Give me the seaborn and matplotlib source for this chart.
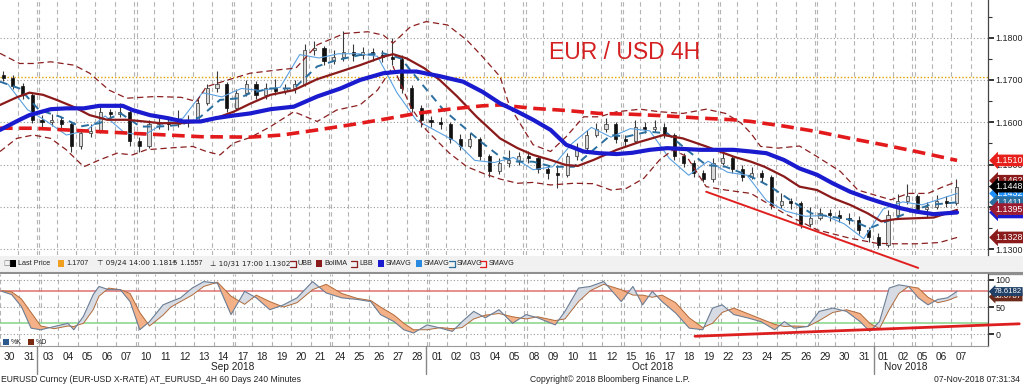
import numpy as np
import pandas as pd
import matplotlib
matplotlib.use("Agg")
import matplotlib.pyplot as plt
import matplotlib.transforms as mtransforms
from matplotlib.patches import Rectangle
from matplotlib.lines import Line2D
import seaborn as sns

# ---------------- data ----------------
day_labels = ["30", "31", "03", "04", "05", "06", "07", "10", "11", "12", "13", "14",
              "17", "18", "19", "20", "21", "24", "25", "26", "27", "28",
              "01", "02", "03", "04", "05", "08", "09", "10", "11", "12", "15", "16",
              "17", "18", "19", "22", "23", "24", "25", "26", "29", "30", "31",
              "01", "02", "05", "06", "07"]
friday_idx = [1, 6, 11, 16, 21, 26, 31, 36, 41, 46]
month_labels = ["Sep 2018", "Oct 2018", "Nov 2018"]

# half-day price bars (time in trading days, 0 = 30 Aug)
bar_t = [-0.25 + 0.5 * i for i in range(99)]
first_open = 1.1712
bar_close = [
    1.1705, 1.1685, 1.1665, 1.1605, 1.1600, 1.1605, 1.1595, 1.1545, 1.1575, 1.1580,
    1.1625, 1.1620, 1.1625, 1.1555, 1.1545, 1.1595, 1.1600, 1.1595, 1.1600, 1.1605,
    1.1645, 1.1680, 1.1690, 1.1635, 1.1670, 1.1690, 1.1665, 1.1680, 1.1675, 1.1680,
    1.1690, 1.1770, 1.1775, 1.1745, 1.1755, 1.1765, 1.1760, 1.1765, 1.1760, 1.1755,
    1.1750, 1.1680, 1.1635, 1.1605, 1.1600, 1.1595, 1.1560, 1.1545, 1.1560, 1.1520,
    1.1485, 1.1505, 1.1510, 1.1520, 1.1515, 1.1490, 1.1480, 1.1475, 1.1520, 1.1540,
    1.1570, 1.1585, 1.1595, 1.1560, 1.1555, 1.1590, 1.1585, 1.1590, 1.1570, 1.1520,
    1.1505, 1.1480, 1.1465, 1.1505, 1.1515, 1.1490, 1.1470, 1.1480, 1.1470, 1.1405,
    1.1415, 1.1410, 1.1360, 1.1375, 1.1385, 1.1380, 1.1375, 1.1370, 1.1345, 1.1330,
    1.1310, 1.1380, 1.1415, 1.1425, 1.1395, 1.1400, 1.1415, 1.1410, 1.1448]
bar_high = [
    1.1722, 1.1712, 1.1692, 1.1672, 1.1618, 1.1620, 1.1612, 1.1600, 1.1582, 1.1595,
    1.1640, 1.1632, 1.1645, 1.1630, 1.1565, 1.1605, 1.1612, 1.1610, 1.1630, 1.1618,
    1.1655, 1.1690, 1.1722, 1.1695, 1.1678, 1.1700, 1.1698, 1.1692, 1.1702, 1.1690,
    1.1700, 1.1785, 1.1792, 1.1780, 1.1770, 1.1815, 1.1785, 1.1778, 1.1775, 1.1770,
    1.1800, 1.1758, 1.1688, 1.1640, 1.1615, 1.1612, 1.1600, 1.1572, 1.1575, 1.1565,
    1.1525, 1.1515, 1.1535, 1.1530, 1.1532, 1.1520, 1.1498, 1.1500, 1.1528, 1.1550,
    1.1582, 1.1598, 1.1610, 1.1600, 1.1570, 1.1605, 1.1600, 1.1605, 1.1598, 1.1575,
    1.1528, 1.1512, 1.1488, 1.1515, 1.1530, 1.1522, 1.1498, 1.1495, 1.1488, 1.1475,
    1.1432, 1.1422, 1.1415, 1.1400, 1.1398, 1.1395, 1.1392, 1.1385, 1.1378, 1.1352,
    1.1338, 1.1392, 1.1430, 1.1455, 1.1430, 1.1412, 1.1428, 1.1425, 1.1465]
bar_low = [
    1.1698, 1.1678, 1.1655, 1.1598, 1.1590, 1.1592, 1.1585, 1.1530, 1.1538, 1.1565,
    1.1575, 1.1608, 1.1612, 1.1545, 1.1530, 1.1540, 1.1585, 1.1582, 1.1588, 1.1590,
    1.1600, 1.1640, 1.1672, 1.1625, 1.1630, 1.1662, 1.1655, 1.1655, 1.1665, 1.1668,
    1.1670, 1.1685, 1.1760, 1.1735, 1.1738, 1.1745, 1.1745, 1.1750, 1.1745, 1.1742,
    1.1735, 1.1670, 1.1625, 1.1590, 1.1590, 1.1585, 1.1550, 1.1535, 1.1540, 1.1510,
    1.1470, 1.1478, 1.1495, 1.1500, 1.1505, 1.1480, 1.1465, 1.1444, 1.1470, 1.1512,
    1.1535, 1.1565, 1.1578, 1.1552, 1.1545, 1.1550, 1.1575, 1.1578, 1.1562, 1.1512,
    1.1495, 1.1470, 1.1458, 1.1460, 1.1498, 1.1480, 1.1462, 1.1465, 1.1460, 1.1395,
    1.1398, 1.1395, 1.1350, 1.1352, 1.1370, 1.1368, 1.1365, 1.1360, 1.1335, 1.1318,
    1.1302, 1.1305, 1.1375, 1.1408, 1.1385, 1.1375, 1.1395, 1.1400, 1.1405]

ubb_t = [-0.41, 0.6, 1.3, 2.2, 3.4, 4.2, 5.2, 6.1, 7.6, 8.9, 9.7, 10.2, 11.3, 12.45, 14.1,
         14.8, 15.9, 17.3, 18.5, 19.3, 19.8, 20.7, 21.5, 22.6, 23.6, 24.4, 25.3, 25.8, 27.0,
         27.9, 28.7, 29.6, 30.4, 31.3, 32.5, 33.5, 34.7, 35.9, 36.9, 37.7, 38.2, 38.7, 39.6,
         40.7, 41.6, 42.8, 43.7, 44.5, 45.4, 46.3, 47.3, 48.1, 48.8]
ubb_v = [1.1763, 1.1739, 1.1739, 1.1743, 1.1735, 1.1716, 1.1676, 1.1657, 1.1661, 1.1659,
         1.1649, 1.1684, 1.1700, 1.1716, 1.1725, 1.1728, 1.1783, 1.1810, 1.1814, 1.1806,
         1.1787, 1.1826, 1.1838, 1.1830, 1.1794, 1.1755, 1.1708, 1.1637, 1.1547, 1.1531,
         1.1566, 1.1613, 1.1613, 1.1625, 1.1631, 1.1625, 1.1621, 1.1631, 1.1621, 1.1598,
         1.1574, 1.1543, 1.1539, 1.1544, 1.1519, 1.1484, 1.1440, 1.1429, 1.1417, 1.1432,
         1.1432, 1.1448, 1.1460]
bollma_t = [-0.41, 0.45, 1.1, 1.8, 2.5, 3.4, 4.2, 5.1, 6.1, 7.0, 7.8, 8.9, 9.9, 10.7, 11.6,
            12.45, 13.5, 14.7, 15.9, 17.1, 18.1, 19.3, 19.8, 20.5, 21.4, 22.2, 23.1, 24.1,
            25.3, 26.2, 27.0, 27.9, 28.7, 29.3, 30.1, 31.3, 32.5, 33.7, 34.7, 35.9, 37.3,
            38.2, 38.9, 39.9, 40.7, 41.6, 42.4, 43.3, 44.2, 44.9, 45.6, 45.9, 47.6, 48.8]
bollma_v = [1.1641, 1.1659, 1.1670, 1.1665, 1.1653, 1.1636, 1.1617, 1.1606, 1.1606, 1.1602,
            1.1598, 1.1598, 1.1602, 1.1610, 1.1625, 1.1644, 1.1665, 1.1676, 1.1702, 1.1720,
            1.1735, 1.1755, 1.1761, 1.1751, 1.1728, 1.1700, 1.1661, 1.1613, 1.1562, 1.1539,
            1.1523, 1.1511, 1.1499, 1.1497, 1.1511, 1.1535, 1.1554, 1.1570, 1.1562, 1.1543,
            1.1519, 1.1507, 1.1495, 1.1472, 1.1448, 1.1440, 1.1421, 1.1405, 1.1385, 1.1366,
            1.1371, 1.1372, 1.1375, 1.1393]
lbb_t = [-0.41, 0.45, 1.3, 2.2, 3.0, 3.9, 4.7, 5.6, 6.4, 7.1, 8.2, 9.5, 10.2, 10.9, 11.6,
         12.45, 13.5, 14.7, 15.9, 16.9, 18.1, 19.0, 19.8, 20.7, 21.5, 22.7, 23.6, 24.4, 25.3,
         26.2, 27.0, 27.9, 29.1, 30.1, 31.0, 31.8, 32.7, 33.5, 34.2, 34.9, 35.9, 36.9, 38.2,
         39.9, 41.6, 43.3, 44.7, 45.6, 46.7, 47.9, 48.8]
lbb_v = [1.1531, 1.1562, 1.1570, 1.1562, 1.1535, 1.1495, 1.1511, 1.1527, 1.1523, 1.1535,
         1.1539, 1.1543, 1.1531, 1.1523, 1.1551, 1.1564, 1.1590, 1.1625, 1.1602, 1.1629,
         1.1641, 1.1676, 1.1732, 1.1637, 1.1582, 1.1527, 1.1495, 1.1480, 1.1466, 1.1456,
         1.1458, 1.1452, 1.1456, 1.1455, 1.1440, 1.1444, 1.1468, 1.1511, 1.1535, 1.1519,
         1.1448, 1.1440, 1.1432, 1.1385, 1.1346, 1.1326, 1.1314, 1.1313, 1.1313, 1.1316,
         1.1328]
sma_slow_t = [-0.41, 0.6, 1.1, 2.2, 3.0, 3.9, 4.7, 5.9, 6.4, 7.3, 8.2, 9.0, 9.9, 10.7, 11.6,
              12.45, 13.5, 14.7, 15.9, 17.1, 18.1, 19.3, 20.2, 21.0, 22.2, 23.4, 24.4, 25.3,
              26.2, 27.0, 27.9, 28.7, 29.6, 30.4, 31.3, 32.1, 33.0, 33.9, 35.6, 37.3, 38.2,
              39.0, 39.9, 40.7, 41.6, 42.4, 43.3, 44.2, 45.0, 45.9, 46.7, 47.6, 48.8]
sma_slow_v = [1.1582, 1.1606, 1.1617, 1.1631, 1.1633, 1.1633, 1.1639, 1.1639, 1.1629, 1.1617,
              1.1610, 1.1602, 1.1602, 1.1610, 1.1616, 1.1621, 1.1631, 1.1637, 1.1661, 1.1680,
              1.1700, 1.1716, 1.1720, 1.1720, 1.1709, 1.1696, 1.1672, 1.1645, 1.1625, 1.1606,
              1.1582, 1.1547, 1.1531, 1.1527, 1.1525, 1.1528, 1.1535, 1.1539, 1.1535, 1.1535,
              1.1531, 1.1527, 1.1511, 1.1491, 1.1476, 1.1456, 1.1436, 1.1421, 1.1409, 1.1397,
              1.1389, 1.1383, 1.1387]
sma_200_t = [-0.41, 1.3, 3.0, 4.7, 6.4, 8.2, 9.9, 12.45, 14.1, 15.9, 17.6, 19.3, 21.0, 22.7,
             24.4, 25.3, 27.0, 28.7, 30.4, 32.1, 33.9, 35.6, 37.3, 38.2, 39.9, 41.6, 43.3,
             45.0, 46.7, 48.8]
sma_200_v = [1.1586, 1.1586, 1.1582, 1.1578, 1.1574, 1.1570, 1.1566, 1.1565, 1.1570, 1.1582,
             1.1594, 1.1607, 1.1621, 1.1631, 1.1639, 1.1641, 1.1633, 1.1628, 1.1621, 1.1619,
             1.1615, 1.1610, 1.1606, 1.1602, 1.1591, 1.1578, 1.1562, 1.1547, 1.1531, 1.1510]
sma_mid_t = [-0.41, 0.6, 1.6, 2.7, 3.7, 4.7, 5.8, 6.8, 7.8, 8.9, 9.9, 10.9, 11.9, 12.45, 13.5,
             14.7, 15.9, 16.9, 18.1, 19.3, 20.2, 21.4, 22.4, 23.4, 24.4, 25.3, 26.2, 27.0,
             28.0, 29.1, 30.1, 31.0, 31.8, 32.9, 33.9, 34.9, 35.9, 36.9, 38.2, 39.2, 40.2,
             41.3, 42.3, 43.3, 44.3, 45.4, 46.4, 47.4, 48.8]
sma_mid_v = [1.1696, 1.1680, 1.1629, 1.1613, 1.1590, 1.1598, 1.1621, 1.1590, 1.1590, 1.1594,
             1.1613, 1.1653, 1.1657, 1.1669, 1.1680, 1.1680, 1.1732, 1.1747, 1.1759, 1.1763,
             1.1751, 1.1684, 1.1629, 1.1590, 1.1551, 1.1519, 1.1507, 1.1507, 1.1495, 1.1495,
             1.1535, 1.1570, 1.1566, 1.1578, 1.1574, 1.1535, 1.1499, 1.1495, 1.1472, 1.1448,
             1.1417, 1.1385, 1.1377, 1.1370, 1.1350, 1.1370, 1.1389, 1.1405, 1.1411]
sma_fast_t = [float(d) for d in range(49)] + [48.8]
sma_fast_v = [1.1690, 1.1630, 1.1602, 1.1570, 1.1580, 1.1615, 1.1575, 1.1570, 1.1597, 1.1610,
              1.1670, 1.1660, 1.1680, 1.1675, 1.1683, 1.1760, 1.1752, 1.1762, 1.1762, 1.1756,
              1.1670, 1.1605, 1.1580, 1.1555, 1.1510, 1.1505, 1.1517, 1.1488, 1.1495, 1.1550,
              1.1588, 1.1565, 1.1585, 1.1580, 1.1515, 1.1475, 1.1508, 1.1482, 1.1475, 1.1415,
              1.1390, 1.1378, 1.1380, 1.1360, 1.1325, 1.1395, 1.1412, 1.1405, 1.1420, 1.1432]
last_price_line = 1.1707
trend_top_t = [35.9, 46.8]
trend_top_v = [1.1436, 1.1256]

st_t = [-0.41, 0.1, 0.6, 1.1, 1.6, 2.3, 3.0, 3.3, 3.8, 4.3, 4.6, 5.1, 5.7, 6.2, 6.7, 7.2, 7.9,
        8.3, 8.8, 9.4, 10.0, 10.7, 11.4, 12.1, 12.7, 13.4, 14.1, 14.8, 15.6, 16.3, 17.1,
        17.9, 18.6, 19.1, 19.8, 20.3, 20.8, 21.5, 22.2, 22.8, 23.3, 23.9, 24.5, 25.2, 25.9,
        26.6, 27.2, 28.1, 28.6, 29.3, 29.9, 30.6, 31.5, 32.1, 32.6, 33.1, 33.6, 34.3, 35.0,
        35.7, 36.2, 36.7, 37.3, 38.0, 38.7, 39.4, 39.9, 40.4, 41.1, 41.7, 42.4, 43.1, 43.8,
        44.3, 44.8, 45.3, 45.8, 46.3, 46.8, 47.3, 47.8, 48.3, 48.8]
st_k = [79, 73, 51, 11, 8, 14, 20, 8, 33, 73, 88, 82, 82, 60, 8, 23, 54, 60, 67, 85,
        97, 94, 36, 79, 67, 45, 54, 67, 97, 76, 67, 64, 60, 36, 23, 8, 2, 17, 11, 5,
        23, 42, 30, 45, 20, 36, 30, 17, 42, 85, 88, 97, 60, 88, 54, 79, 60, 39, 11, 8,
        48, 54, 36, 30, 23, 8, 23, 11, 14, 42, 48, 42, 23, 5, 23, 85, 91, 88, 67, 54,
        64, 67, 79]
st_d = [80, 78, 65, 40, 15, 10, 15, 14, 20, 45, 70, 85, 82, 75, 40, 15, 35, 50, 60, 72,
        88, 96, 70, 55, 72, 60, 50, 58, 82, 92, 75, 66, 62, 50, 35, 20, 8, 8, 12, 10,
        12, 28, 35, 38, 32, 28, 32, 25, 28, 60, 80, 92, 82, 72, 72, 68, 72, 58, 30, 12,
        20, 40, 48, 38, 28, 18, 14, 15, 14, 25, 40, 45, 38, 20, 10, 45, 75, 88, 85, 68,
        58, 62, 69]
trend_bot_t = [35.3, 52.0]
trend_bot_v = [-4, 19]

top_tags = [(1.1462, "1.1462", "#8b1a1a"), (1.1432, "1.1432", "#1e90ff"),
            (1.1411, "1.1411", "#2a6fa0"), (1.1387, "1.1387", "#1a1ad0"),
            (1.1510, "1.1510", "#e8201c"), (1.1448, "1.1448", "#000000"),
            (1.1395, "1.1395", "#9b1b30"), (1.1328, "1.1328", "#8b1a1a")]
bot_tags = [(68.6787, "68.6787", "#6b2a1a"), (78.6182, "78.6182", "#1f3f66")]

# ---------------- figure ----------------
sns.set_style("white")
plt.rcParams['font.family'] = ['Liberation Sans', 'DejaVu Sans']

W, H = 1023, 384
fig = plt.figure(figsize=(W / 100, H / 100), dpi=100)


def fy(p):
    return 1 - p / H


AXR = 988 / W
ax1 = fig.add_axes([0, fy(255), AXR, 255 / H])
ax2 = fig.add_axes([0, fy(346), AXR, (346 - 274) / H])
XL = (-0.41, 50.39)

# legend strip background and separator
fig.add_artist(Rectangle((0, fy(271)), 1, (271 - 256) / H, transform=fig.transFigure,
                         fc="#f1f1f1", ec="none", zorder=-5))
fig.add_artist(Line2D([0, 1], [fy(272.5), fy(272.5)], transform=fig.transFigure,
                      color="#8f8f8f", lw=2.4, zorder=-4))

grid_col = "#b4b4b4"
for ax in (ax1, ax2):
    ax.set_xlim(*XL)
    for d in range(-1, 50):
        ax.axvline(d + 0.5, color=grid_col, lw=0.8, ls=(0, (4, 3)), zorder=0)
        if d in friday_idx:
            ax.axvline(d + 0.62, color=grid_col, lw=0.8, ls=(0, (4, 3)), zorder=0)
    for s in ("left", "top", "bottom"):
        ax.spines[s].set_visible(False)
    ax.spines["right"].set_color("#444444")
    ax.spines["right"].set_linewidth(0.9)
    ax.yaxis.tick_right()

# ---------------- top panel ----------------
ax1.set_ylim(1.12865, 1.1889)
ax1.set_yticks([1.13, 1.14, 1.15, 1.16, 1.17, 1.18])
ax1.set_yticklabels(["1.1300", "1.1400", "1.1500", "1.1600", "1.1700", "1.1800"])
ax1.set_yticks([1.135, 1.145, 1.155, 1.165, 1.175, 1.185], minor=True)
ax1.tick_params(axis="y", which="major", length=4, width=1.4, color="#333", labelsize=6.4,
                pad=1.5, labelcolor="#222")
ax1.tick_params(axis="y", which="minor", length=3, width=0.8, color="#333")
ax1.set_xticks([])
for v in [1.13, 1.14, 1.15, 1.16, 1.17, 1.18]:
    ax1.axhline(v, color="#9a9a9a", lw=0.8, ls=(0, (1, 2)), zorder=0)
ax1.axhline(last_price_line, color="#e0a000", lw=1.0, ls=(0, (1, 1.5)), zorder=1)

# candles
opens = [first_open] + bar_close[:-1]
bt = np.array(bar_t)
bo = np.array(opens)
bc = np.array(bar_close)
ax1.vlines(bt, bar_low, bar_high, color="#3a3a3a", lw=0.8, zorder=2)
up = bc >= bo
ax1.bar(bt[up], np.maximum(bc[up] - bo[up], 0.00012), bottom=bo[up], width=0.16,
        color="#d9d9d9", edgecolor="#333333", lw=0.5, zorder=3)
ax1.bar(bt[~up], np.maximum(bo[~up] - bc[~up], 0.00012), bottom=bc[~up], width=0.16,
        color="#111111", edgecolor="#111111", lw=0.5, zorder=3)


def line(ax, t, v, **kw):
    df = pd.DataFrame({"t": t, "v": v})
    sns.lineplot(data=df, x="t", y="v", ax=ax, estimator=None, sort=True, legend=False, **kw)


line(ax1, sma_fast_t, sma_fast_v, color="#5aa0e0", lw=0.8, zorder=4)
line(ax1, ubb_t, ubb_v, color="#8b1f1f", lw=0.9, linestyle=(0, (5, 3)), zorder=4)
line(ax1, lbb_t, lbb_v, color="#8b1f1f", lw=0.9, linestyle=(0, (5, 3)), zorder=4)
line(ax1, sma_mid_t, sma_mid_v, color="#2a6fa0", lw=1.4, linestyle=(0, (4, 3)), zorder=5)
line(ax1, bollma_t, bollma_v, color="#8b1a1a", lw=1.6, zorder=5)
line(ax1, sma_200_t, sma_200_v, color="#e31a1c", lw=2.6, linestyle=(0, (3.5, 1.8)), zorder=6)
line(ax1, sma_slow_t, sma_slow_v, color="#1a1acf", lw=3.0, zorder=6)
ax1.set_xlabel("")
ax1.set_ylabel("")

ax1.plot(trend_top_t, trend_top_v, color="#e02020", lw=1.4, clip_on=False, zorder=7)

ax1.text(31.7, 1.1764, "EUR / USD 4H", color="#d42020", fontsize=16.5,
         ha="center", va="center", zorder=8)

tr1 = mtransforms.blended_transform_factory(ax1.transAxes, ax1.transData)
for v, s, c in top_tags:
    ax1.text(1.0075, v, s, transform=tr1, fontsize=6.4, color="white", ha="left", va="center",
             clip_on=False, zorder=10,
             bbox=dict(boxstyle="larrow,pad=0.15", fc=c, ec="none"))

# ---------------- bottom panel ----------------
ax2.set_ylim(-22, 111)
ax2.set_yticks([0, 50, 100])
ax2.set_yticklabels(["0", "50", "100"])
ax2.tick_params(axis="y", length=4, width=1.4, color="#333", labelsize=6.4, pad=1.5,
                labelcolor="#222")
for v in [0, 50, 100]:
    ax2.axhline(v, color="#9a9a9a", lw=0.8, ls=(0, (1, 2)), zorder=0)
ax2.axhline(80, color="#e07070", lw=1.1, zorder=1)
ax2.axhline(20, color="#86d486", lw=1.1, zorder=1)

k = np.array(st_k, dtype=float)
dd = np.array(st_d, dtype=float)
tt = np.array(st_t)
ax2.fill_between(tt, k, dd, where=dd >= k, interpolate=True, color="#f4b086", lw=0, zorder=2)
ax2.fill_between(tt, k, dd, where=k > dd, interpolate=True, color="#d7dce4", lw=0, zorder=2)
line(ax2, st_t, st_d, color="#b06a3a", lw=0.7, zorder=3)
line(ax2, st_t, st_k, color="#6b7d95", lw=0.8, zorder=3)
ax2.set_xlabel("")
ax2.set_ylabel("")
ax2.plot(trend_bot_t, trend_bot_v, color="#dd1f1f", lw=2.0, clip_on=False, zorder=7)

tr2 = mtransforms.blended_transform_factory(ax2.transAxes, ax2.transData)
for v, s, c in bot_tags:
    ax2.text(1.0055, v, s, transform=tr2, fontsize=5.6, color="white", ha="left", va="center",
             clip_on=False, zorder=10, bbox=dict(boxstyle="larrow,pad=0.12", fc=c, ec="none"))

ax2.spines["bottom"].set_visible(True)
ax2.spines["bottom"].set_color("#999999")
ax2.spines["bottom"].set_linewidth(0.8)
ax2.set_xticks(range(50))
ax2.set_xticklabels(day_labels)
ax2.tick_params(axis="x", which="major", length=0, labelsize=7.3, pad=4, labelcolor="#222")
minor = [d + 0.5 for d in range(-1, 50)] + [d + 0.62 for d in friday_idx]
ax2.set_xticks(minor, minor=True)
ax2.tick_params(axis="x", which="minor", direction="in", length=5, width=0.8, color="#777")

# %K / %D legend
fig.add_artist(Rectangle((3 / W, fy(345)), 6 / W, 6 / H, transform=fig.transFigure,
                         fc="#2c5a8c", ec="none"))
fig.text(11 / W, fy(342), "%K", fontsize=5, va="center", color="#222")
fig.add_artist(Rectangle((28 / W, fy(345)), 6 / W, 6 / H, transform=fig.transFigure,
                         fc="#7a2a10", ec="none"))
fig.text(36 / W, fy(342), "%D", fontsize=5, va="center", color="#222")

# month labels & separators
for x, s in zip([233, 653, 906], month_labels):
    fig.text(x / W, fy(367), s, fontsize=7.3, ha="center", va="center", color="#222")
for d in [1.5, 21.5, 44.5]:
    xp = (8 + 19.45 * d) / W
    fig.add_artist(Line2D([xp, xp], [fy(346), fy(374)], transform=fig.transFigure,
                          color="#888", lw=1.0))

# legend strip items
ly = fy(263.5)
fs = 5.2
items = [
    (3, None, "\u25a1", "#777"), (10, "#000000", None, None),
    (18, None, "Last Price", "#222"), (58, "#f0a020", None, None), (66, None, "1.1707", "#222"),
    (97, None, "\u22a4 09/24 14:00 1.1815", "#222"), (172, None, "+  1.1557", "#222"),
    (210, None, "\u22a5 10/31 17:00 1.1302", "#222"),
    (298, None, "UBB", "#222"), (316, "#8b1a1a", None, None), (324, None, "BollMA", "#222"),
    (359, None, "LBB", "#222"), (378, "#1a1acf", None, None), (386, None, "SMAVG", "#222"),
    (416, "#2a8ae0", None, None), (424, None, "SMAVG", "#222"),
    (457, None, "SMAVG", "#222"), (489, None, "SMAVG", "#222")]
for x, sq, txt, col in items:
    if sq is not None:
        fig.add_artist(Rectangle((x / W, ly - 3.5 / H), 6 / W, 7 / H, transform=fig.transFigure,
                                 fc=sq, ec="none"))
    else:
        fig.text(x / W, ly, txt, fontsize=fs, va="center", ha="left", color=col,
                 family=["DejaVu Sans"] if txt in ("\u25a1",) or txt.startswith(("\u22a4", "\u22a5")) else None)
for x, c in [(290, "#8b1f1f"), (351, "#8b1f1f"), (449, "#2a6fa0"), (480, "#e31a1c")]:
    fig.add_artist(Line2D([x / W, (x + 6) / W], [ly + 3 / H, ly + 3 / H],
                          transform=fig.transFigure, color=c, lw=0.9))
    fig.add_artist(Line2D([x / W, (x + 6) / W], [ly - 3 / H, ly - 3 / H],
                          transform=fig.transFigure, color=c, lw=0.9))
    fig.add_artist(Line2D([(x + 6) / W, (x + 6) / W], [ly - 3 / H, ly + 3 / H],
                          transform=fig.transFigure, color=c, lw=0.9))

# footer
fig.text(1 / W, fy(379), "EURUSD Curncy (EUR-USD X-RATE) AT_EURUSD_4H 60 Days 240 Minutes",
         fontsize=6.2, va="center", ha="left", color="#222")
fig.text(530 / W, fy(379), "Copyright\u00a9 2018 Bloomberg Finance L.P.", fontsize=6.2,
         va="center", ha="left", color="#222")
fig.text(1020 / W, fy(379), "07-Nov-2018 07:31:34", fontsize=6.2, va="center", ha="right",
         color="#222")

fig.savefig("out.png", dpi=100, facecolor="white")
